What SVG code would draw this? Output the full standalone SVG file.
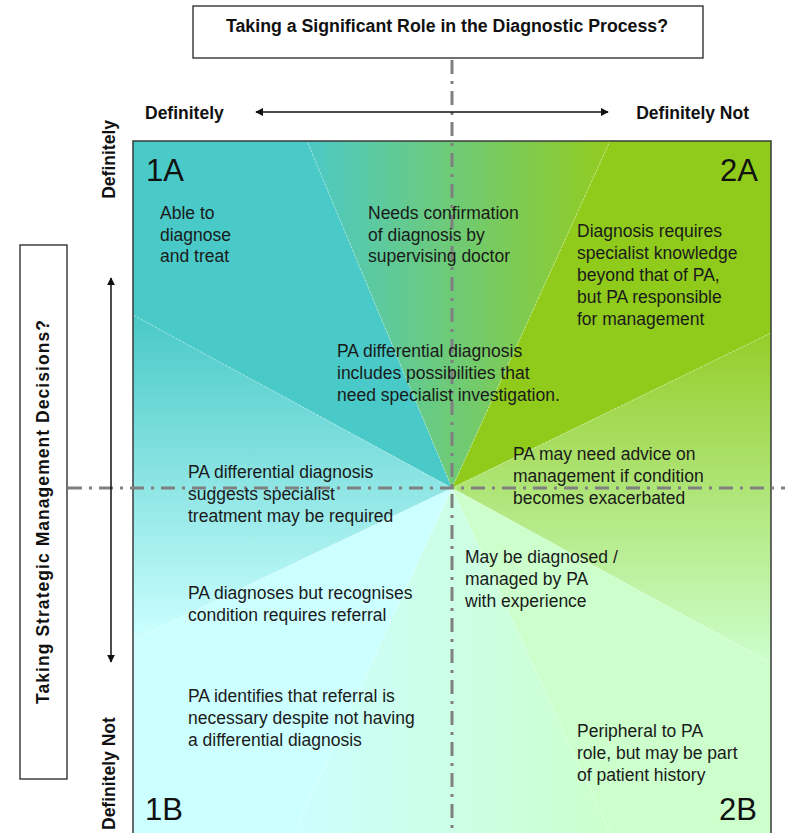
<svg xmlns="http://www.w3.org/2000/svg" width="785" height="833" viewBox="0 0 785 833">
  <style>
    .lbl { font-family: "Liberation Sans", Arial, sans-serif; font-size: 17.5px; fill: #1a1a1a; }
    .hdr { font-family: "Liberation Sans", Arial, sans-serif; font-size: 17.5px; font-weight: bold; fill: #111; }
    .quad { font-family: "Liberation Sans", Arial, sans-serif; font-size: 31px; fill: #111; }
    .axis { stroke: #808080; stroke-width: 3; fill: none; stroke-dasharray: 14 7 3 7; }
    .arrow { stroke: #111; stroke-width: 1.5; fill: none; marker-start: url(#head); marker-end: url(#head); }
    .seam { stroke: #ffffff; stroke-opacity: 0.45; stroke-width: 0.8; stroke-dasharray: 2 2; }
    .box { fill: #ffffff; stroke: #222; stroke-width: 1.3; }
  </style>
  <defs>
    <marker id="head" viewBox="0 0 10 10" refX="9" refY="5" markerWidth="8" markerHeight="8" markerUnits="userSpaceOnUse" orient="auto-start-reverse">
      <path d="M0,0 L10,5 L0,10 Z" fill="#111"/>
    </marker>
    <linearGradient id="gTop" gradientUnits="userSpaceOnUse" x1="307" y1="0" x2="610" y2="0">
      <stop offset="0" stop-color="#4cc9c6"/>
      <stop offset="1" stop-color="#93cc20"/>
    </linearGradient>
    <linearGradient id="gRight" gradientUnits="userSpaceOnUse" x1="0" y1="333" x2="0" y2="663">
      <stop offset="0" stop-color="#95cd2a"/>
      <stop offset="1" stop-color="#ccffcc"/>
    </linearGradient>
    <linearGradient id="gBottom" gradientUnits="userSpaceOnUse" x1="293" y1="0" x2="611" y2="0">
      <stop offset="0" stop-color="#ccffff"/>
      <stop offset="1" stop-color="#ccffcc"/>
    </linearGradient>
    <linearGradient id="gLeft" gradientUnits="userSpaceOnUse" x1="0" y1="315" x2="0" y2="640">
      <stop offset="0" stop-color="#49c9c7"/>
      <stop offset="1" stop-color="#ccffff"/>
    </linearGradient>
  </defs>

  <!-- radial sectors around the centre point (452,488) -->
  <g id="sectors">
    <polygon points="452,488 133,315 133,141 307,141" fill="#49c9c7"/>
    <polygon points="452,488 307,141 610,141" fill="url(#gTop)"/>
    <polygon points="452,488 610,141 771,141 771,333" fill="#90cb1c"/>
    <polygon points="452,488 771,333 771,663" fill="url(#gRight)"/>
    <polygon points="452,488 771,663 771,835 611,835" fill="#ccffcc"/>
    <polygon points="452,488 611,835 293,835" fill="url(#gBottom)"/>
    <polygon points="452,488 293,835 133,835 133,640" fill="#ccffff"/>
    <polygon points="452,488 133,640 133,315" fill="url(#gLeft)"/>
    <g class="seam">
      <line x1="452" y1="488" x2="307" y2="141"/>
      <line x1="452" y1="488" x2="610" y2="141"/>
      <line x1="452" y1="488" x2="771" y2="333"/>
      <line x1="452" y1="488" x2="771" y2="663"/>
      <line x1="452" y1="488" x2="611" y2="835"/>
      <line x1="452" y1="488" x2="293" y2="835"/>
      <line x1="452" y1="488" x2="133" y2="640"/>
      <line x1="452" y1="488" x2="133" y2="315"/>
    </g>
    <rect x="133" y="141" width="638" height="694" fill="none" stroke="#3a3a3a" stroke-width="1.5"/>
  </g>

  <!-- axis titles -->
  <g id="title-diagnostic">
    <rect class="box" x="193" y="6" width="510" height="52"/>
    <text class="hdr" x="447" y="32" text-anchor="middle" textLength="442" lengthAdjust="spacingAndGlyphs">Taking a Significant Role in the Diagnostic Process?</text>
  </g>
  <g id="title-management">
    <rect class="box" x="20" y="245" width="47" height="534"/>
    <text class="hdr" transform="translate(49,512) rotate(-90)" text-anchor="middle" textLength="384" lengthAdjust="spacing">Taking Strategic Management Decisions?</text>
  </g>

  <!-- axis lines and scale arrows -->
  <g id="connectors">
    <line class="axis" x1="452" y1="60" x2="452" y2="833"/>
    <line class="axis" x1="68" y1="488" x2="785" y2="488"/>
    <line class="arrow" x1="256" y1="112" x2="608" y2="112"/>
    <line class="arrow" x1="111" y1="278" x2="111" y2="662"/>
  </g>

  <g id="scale-labels">
    <text class="hdr" x="145" y="119">Definitely</text>
    <text class="hdr" x="749" y="119" text-anchor="end">Definitely Not</text>
    <text class="hdr" transform="translate(115,120) rotate(-90)" text-anchor="end">Definitely</text>
    <text class="hdr" transform="translate(115,830) rotate(-90)" text-anchor="start">Definitely Not</text>
  </g>

  <g id="quadrant-codes">
    <text class="quad" x="146" y="181">1A</text>
    <text class="quad" x="758" y="181" text-anchor="end">2A</text>
    <text class="quad" x="145" y="820">1B</text>
    <text class="quad" x="757" y="820" text-anchor="end">2B</text>
  </g>

  <g id="able-to-diagnose">
    <text class="lbl" x="160" y="219">Able to</text>
    <text class="lbl" x="160" y="240.5">diagnose</text>
    <text class="lbl" x="160" y="262">and treat</text>
  </g>
  <g id="needs-confirmation">
    <text class="lbl" x="368" y="219">Needs confirmation</text>
    <text class="lbl" x="368" y="240.5">of diagnosis by</text>
    <text class="lbl" x="368" y="262">supervising doctor</text>
  </g>
  <g id="specialist-knowledge">
    <text class="lbl" x="577" y="237">Diagnosis requires</text>
    <text class="lbl" x="577" y="259">specialist knowledge</text>
    <text class="lbl" x="577" y="281">beyond that of PA,</text>
    <text class="lbl" x="577" y="303">but PA responsible</text>
    <text class="lbl" x="577" y="325">for management</text>
  </g>
  <g id="specialist-investigation">
    <text class="lbl" x="337" y="357">PA differential diagnosis</text>
    <text class="lbl" x="337" y="379">includes possibilities that</text>
    <text class="lbl" x="337" y="401">need specialist investigation.</text>
  </g>
  <g id="advice-on-management">
    <text class="lbl" x="513" y="460">PA may need advice on</text>
    <text class="lbl" x="513" y="482">management if condition</text>
    <text class="lbl" x="513" y="504">becomes exacerbated</text>
  </g>
  <g id="specialist-treatment">
    <text class="lbl" x="188" y="478">PA differential diagnosis</text>
    <text class="lbl" x="188" y="500">suggests specialist</text>
    <text class="lbl" x="188" y="522">treatment may be required</text>
  </g>
  <g id="requires-referral">
    <text class="lbl" x="188" y="599">PA diagnoses but recognises</text>
    <text class="lbl" x="188" y="621">condition requires referral</text>
  </g>
  <g id="referral-without-diagnosis">
    <text class="lbl" x="188" y="702">PA identifies that referral is</text>
    <text class="lbl" x="188" y="724">necessary despite not having</text>
    <text class="lbl" x="188" y="746">a differential diagnosis</text>
  </g>
  <g id="with-experience">
    <text class="lbl" x="465" y="563">May be diagnosed /</text>
    <text class="lbl" x="465" y="585">managed by PA</text>
    <text class="lbl" x="465" y="607">with experience</text>
  </g>
  <g id="peripheral">
    <text class="lbl" x="577" y="737">Peripheral to PA</text>
    <text class="lbl" x="577" y="759">role, but may be part</text>
    <text class="lbl" x="577" y="781">of patient history</text>
  </g>
</svg>
